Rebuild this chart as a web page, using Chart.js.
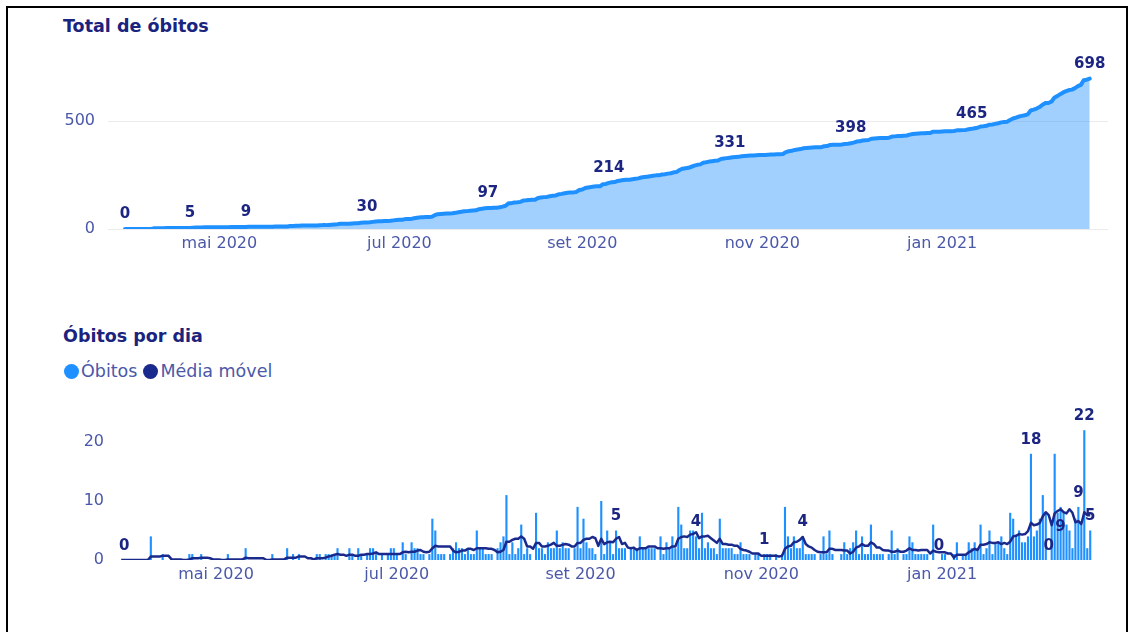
<!DOCTYPE html>
<html>
<head>
<meta charset="utf-8">
<script src="https://cdn.jsdelivr.net/npm/chart.js@4.4.1/dist/chart.umd.min.js"></script>
<style>
  html, body { margin: 0; padding: 0; background: #fff; }
  body { width: 1132px; height: 632px; position: relative; overflow: hidden; font-family: "DejaVu Sans", Verdana, sans-serif; }
  #frame { position: absolute; left: 6px; top: 6px; width: 1122px; height: 660px; border: 2px solid #000; box-sizing: border-box; }
  .title { position: absolute; left: 63px; font-weight: bold; font-size: 17.5px; line-height: 20px; color: #1a237e; white-space: nowrap; }
  #legend { position: absolute; left: 64px; top: 360px; height: 22px; font-size: 17.5px; line-height: 22px; color: #4b58a8; white-space: nowrap; }
  #legend span.item { display: inline-block; margin-right: 6px; }
  #legend span.dot { display: inline-block; width: 15px; height: 15px; border-radius: 50%; vertical-align: -2px; margin-right: 2px; }
  canvas { position: absolute; left: 0; }
</style>
</head>
<body>
<div id="frame"></div>
<div class="title" style="top:16px">Total de óbitos</div>
<canvas id="totalChart" width="1132" height="270" style="top:0px"></canvas>
<div class="title" style="top:326px">Óbitos por dia</div>
<div id="legend"><span class="item"><span class="dot" style="background:#1e90ff"></span>Óbitos</span><span class="item"><span class="dot" style="background:#1a2a8c"></span>Média móvel</span></div>
<canvas id="dailyChart" width="1132" height="252" style="top:380px"></canvas>
<script>
// ---------- data ----------
const startDate = "2020-03-30";

const tickDates  = ["2020-05-01", "2020-07-01", "2020-09-01", "2020-11-01", "2021-01-01"];
const tickLabels = ["mai 2020", "jul 2020", "set 2020", "nov 2020", "jan 2021"];

// daily deaths (one value per day, from 2020-03-30)
const dailyDeaths = [
  0,0,0,0,0,0,0,0,0,0,
  4,0,0,0,1,0,0,0,0,0,
  0,0,0,1,1,0,0,1,0,0,
  0,0,0,0,0,0,1,0,0,0,
  0,0,2,0,0,0,0,0,0,0,
  0,1,0,0,0,0,2,0,1,0,
  1,0,0,0,0,0,1,1,0,1,
  1,1,1,2,0,0,0,2,1,0,
  2,1,0,1,2,2,1,0,1,0,
  1,2,2,1,0,3,1,0,3,2,
  2,1,1,0,1,7,5,1,1,1,
  0,1,2,3,2,2,1,2,1,1,
  5,2,2,1,1,1,0,2,3,4,
  11,1,3,1,2,6,1,2,1,0,
  8,2,2,1,3,2,2,5,2,3,
  2,2,0,2,9,2,7,3,2,2,
  1,0,10,1,5,3,1,5,2,2,
  2,0,2,2,2,4,2,2,2,2,
  2,0,4,1,3,2,4,2,9,6,
  2,2,5,5,4,2,8,2,3,2,
  2,1,7,2,2,2,2,1,1,3,
  1,1,1,0,1,1,0,1,1,1,
  0,1,0,1,9,4,2,4,2,2,
  4,1,1,1,1,0,1,4,1,5,
  1,0,0,1,3,1,2,3,5,1,
  4,1,1,6,1,1,1,1,0,1,
  5,1,2,0,1,1,4,3,1,1,
  1,1,1,0,6,0,0,1,1,0,
  0,1,3,0,1,1,3,2,3,2,
  6,1,2,5,1,3,3,4,2,1,
  8,7,4,5,3,3,4,18,4,5,
  7,11,8,0,6,18,8,9,8,6,
  5,2,7,9,6,22,2,5
];

// total deaths (running total)
const totalDeaths = [
  0,0,0,0,0,0,0,0,0,0,
  4,4,4,4,5,5,5,5,5,5,
  5,5,5,6,7,7,7,8,8,8,
  8,8,8,8,8,8,9,9,9,9,
  9,9,11,11,11,11,11,11,11,11,
  11,12,12,12,12,12,14,14,15,15,
  16,16,16,16,16,16,17,18,18,19,
  20,21,22,24,24,24,24,26,27,27,
  29,30,30,31,33,35,36,36,37,37,
  38,40,42,43,43,46,47,47,50,52,
  54,55,56,56,57,64,69,70,71,72,
  72,73,75,78,80,82,83,85,86,87,
  92,94,96,97,98,99,99,101,104,108,
  119,120,123,124,126,132,133,135,136,136,
  144,146,148,149,152,154,156,161,163,166,
  168,170,170,172,181,183,190,193,195,197,
  198,198,208,209,214,217,218,223,225,227,
  229,229,231,233,235,239,241,243,245,247,
  249,249,253,254,257,259,263,265,274,280,
  282,284,289,294,298,300,308,310,313,315,
  317,318,325,327,329,331,333,334,335,338,
  339,340,341,341,342,343,343,344,345,346,
  346,347,347,348,357,361,363,367,369,371,
  375,376,377,378,379,379,380,384,385,390,
  391,391,391,392,395,396,398,401,406,407,
  411,412,413,419,420,421,422,423,423,424,
  429,430,432,432,433,434,438,441,442,443,
  444,445,446,446,452,452,452,453,454,454,
  454,455,458,458,459,460,463,465,468,470,
  476,477,479,484,485,488,491,495,497,498,
  506,513,517,522,525,528,532,550,554,559,
  566,577,585,585,591,609,617,626,634,640,
  645,647,654,663,669,691,693,698
];

// 7-day moving average
const movingAverage = [
  0,0,0,0,0,0,0,0,0,0,
  0.6,0.6,0.6,0.6,0.7,0.7,0.7,0.1,0.1,0.1,
  0.1,0,0,0.1,0.3,0.3,0.3,0.4,0.4,0.4,
  0.3,0.1,0.1,0.1,0,0,0.1,0.1,0.1,0.1,
  0.1,0.1,0.4,0.3,0.3,0.3,0.3,0.3,0.3,0,
  0,0.1,0.1,0.1,0.1,0.1,0.4,0.4,0.4,0.4,
  0.6,0.6,0.6,0.3,0.3,0.1,0.3,0.3,0.3,0.4,
  0.6,0.7,0.9,1.0,0.9,0.9,0.7,0.9,0.9,0.7,
  0.7,0.9,0.9,1.0,1.0,1.1,1.3,1.0,1.0,1.0,
  1.0,1.0,1.0,1.0,1.0,1.3,1.4,1.3,1.4,1.4,
  1.6,1.7,1.4,1.3,1.4,2.0,2.4,2.3,2.3,2.3,
  2.3,2.3,1.6,1.3,1.4,1.6,1.6,1.9,1.9,1.7,
  2.0,2.0,2.0,2.0,1.9,1.9,1.7,1.3,1.4,1.7,
  3.1,3.1,3.4,3.6,3.6,4.0,3.6,2.3,2.3,1.9,
  2.9,2.9,2.3,2.3,2.4,2.6,2.9,2.4,2.4,2.6,
  2.7,2.6,2.3,2.3,2.9,2.9,3.4,3.6,3.6,3.9,
  3.7,2.4,3.6,2.7,3.0,3.1,3.0,3.6,3.9,2.7,
  2.9,2.1,2.0,2.1,1.7,2.0,2.0,2.0,2.3,2.3,
  2.3,2.0,2.0,1.9,2.0,2.0,2.3,2.3,3.6,3.9,
  4.0,3.9,4.3,4.4,4.7,3.7,4.0,4.0,4.1,3.7,
  3.3,2.9,3.6,2.7,2.7,2.6,2.6,2.4,2.4,1.9,
  1.7,1.6,1.4,1.1,1.1,1.1,0.7,0.7,0.7,0.7,
  0.7,0.7,0.6,0.7,1.9,2.3,2.4,3.0,3.1,3.4,
  3.9,2.7,2.3,2.1,1.7,1.4,1.3,1.3,1.3,1.9,
  1.9,1.7,1.7,1.7,1.6,1.6,1.1,1.4,2.1,2.3,
  2.7,2.4,2.4,3.0,2.7,2.1,2.1,1.7,1.6,1.6,
  1.4,1.4,1.6,1.4,1.4,1.6,2.0,1.7,1.7,1.6,
  1.7,1.7,1.7,1.1,1.6,1.4,1.3,1.3,1.3,1.1,
  1.1,0.4,0.9,0.9,0.9,0.9,1.3,1.6,1.9,1.7,
  2.6,2.6,2.7,3.0,2.9,2.9,3.0,2.7,2.9,2.7,
  3.1,4.0,4.1,4.4,4.3,4.4,4.9,6.3,5.9,6.0,
  6.3,7.4,8.1,7.6,5.9,7.9,8.3,8.6,8.1,7.9,
  8.6,8.0,6.4,6.6,6.1,8.1,7.6,7.6
];

// days (index from startDate) that carry a value label
const totalLabelDays = [0, 22, 41, 82, 123, 164, 205, 246, 287, 327];
const dailyLabelDays = [1, 167, 194, 217, 230, 276, 307, 313, 317, 323, 325, 327];
const dailyLabelInsideDays = [317];

// ---------- helpers ----------
const DAY = 86400000;
const t0 = Date.parse(startDate + "T00:00:00Z");
const dayIndex = d => Math.round((Date.parse(d + "T00:00:00Z") - t0) / DAY);
const tickDays = tickDates.map(dayIndex);

const C_BAR = "#1e90ff";
const C_NAVY = "#1a2a8c";
const C_LABEL = "#1c2682";
const C_TICK = "#4b58a8";
const FONT = "'DejaVu Sans', Verdana, sans-serif";

Chart.defaults.font.family = FONT;
Chart.defaults.color = C_TICK;

function xScale(minV, maxV) {
  return {
    type: "linear", min: minV, max: maxV, offset: false,
    grid: { display: false, drawTicks: false, offset: false },
    border: { display: false },
    afterBuildTicks: s => { s.ticks = tickDays.map(v => ({ value: v })); },
    afterFit: s => { s.height = s.chart.height - s.chart.options.plotBottom; },
    ticks: {
      autoSkip: false, maxRotation: 0, padding: 5,
      font: { size: 16 }, color: C_TICK,
      callback: v => { const i = tickDays.indexOf(v); return i >= 0 ? tickLabels[i] : ""; }
    }
  };
}

// ---------- total chart ----------
const totalLabelsPlugin = {
  id: "totalLabels",
  afterDatasetsDraw(chart) {
    const ctx = chart.ctx;
    const meta = chart.getDatasetMeta(0);
    ctx.save();
    ctx.font = "bold 15px " + FONT;
    ctx.fillStyle = C_LABEL;
    ctx.textAlign = "center";
    ctx.textBaseline = "middle";
    totalLabelDays.forEach(d => {
      const p = meta.data[d];
      ctx.fillText(String(totalDeaths[d]), p.x, p.y - 15);
    });
    ctx.restore();
  }
};

new Chart(document.getElementById("totalChart"), {
  type: "line",
  data: {
    datasets: [{
      data: totalDeaths.map((v, i) => ({ x: i, y: v })),
      borderColor: C_BAR, borderWidth: 4,
      backgroundColor: "rgba(30,144,255,0.42)",
      fill: "origin", pointRadius: 0, tension: 0,
      borderJoinStyle: "round", borderCapStyle: "round"
    }]
  },
  options: {
    plotBottom: 229,
    responsive: false, animation: false, devicePixelRatio: 1,
    layout: { padding: { left: 0, right: 24, top: 50, bottom: 0 } },
    plugins: { legend: { display: false }, tooltip: { enabled: false } },
    scales: {
      x: xScale(-5.76, 333.2),
      y: {
        min: 0, max: 831,
        afterBuildTicks: s => { s.ticks = [{ value: 0 }, { value: 500 }]; },
        afterFit: s => { s.width = 108; },
        grid: { color: "#ebebeb", lineWidth: 1, drawTicks: false },
        border: { display: false },
        ticks: { padding: 13, font: { size: 16 }, color: C_TICK }
      }
    }
  },
  plugins: [totalLabelsPlugin]
});

// ---------- daily chart ----------
const dailyLabelsPlugin = {
  id: "dailyLabels",
  afterDatasetsDraw(chart) {
    const ctx = chart.ctx;
    const meta = chart.getDatasetMeta(1);
    ctx.save();
    ctx.font = "bold 15px " + FONT;
    ctx.fillStyle = C_LABEL;
    ctx.textAlign = "center";
    ctx.textBaseline = "middle";
    dailyLabelDays.forEach(d => {
      const b = meta.data[d];
      const inside = dailyLabelInsideDays.includes(d);
      ctx.fillText(String(dailyDeaths[d]), b.x, inside ? b.y + 20 : b.y - 14);
    });
    ctx.restore();
  }
};

new Chart(document.getElementById("dailyChart"), {
  type: "bar",
  data: {
    datasets: [
      {
        type: "line", label: "Média móvel", order: 0,
        data: movingAverage.map((v, i) => ({ x: i, y: v })),
        borderColor: C_NAVY, borderWidth: 2.5, pointRadius: 0, tension: 0, fill: false,
        borderJoinStyle: "round"
      },
      {
        type: "bar", label: "Óbitos", order: 1,
        data: dailyDeaths.map((v, i) => ({ x: i, y: v })),
        backgroundColor: C_BAR, borderWidth: 0,
        categoryPercentage: 1, barPercentage: 0.72
      }
    ]
  },
  options: {
    plotBottom: 180,
    responsive: false, animation: false, devicePixelRatio: 1,
    layout: { padding: { left: 0, right: 24, top: 30, bottom: 0 } },
    plugins: { legend: { display: false }, tooltip: { enabled: false } },
    scales: {
      x: xScale(-4.45, 333.0),
      y: {
        min: 0, max: 25.42,
        afterBuildTicks: s => { s.ticks = [{ value: 0 }, { value: 10 }, { value: 20 }]; },
        afterFit: s => { s.width = 108; },
        grid: { display: false, drawTicks: false },
        border: { display: false },
        ticks: { padding: 4, font: { size: 16 }, color: C_TICK }
      }
    }
  },
  plugins: [dailyLabelsPlugin]
});
</script>
</body>
</html>
